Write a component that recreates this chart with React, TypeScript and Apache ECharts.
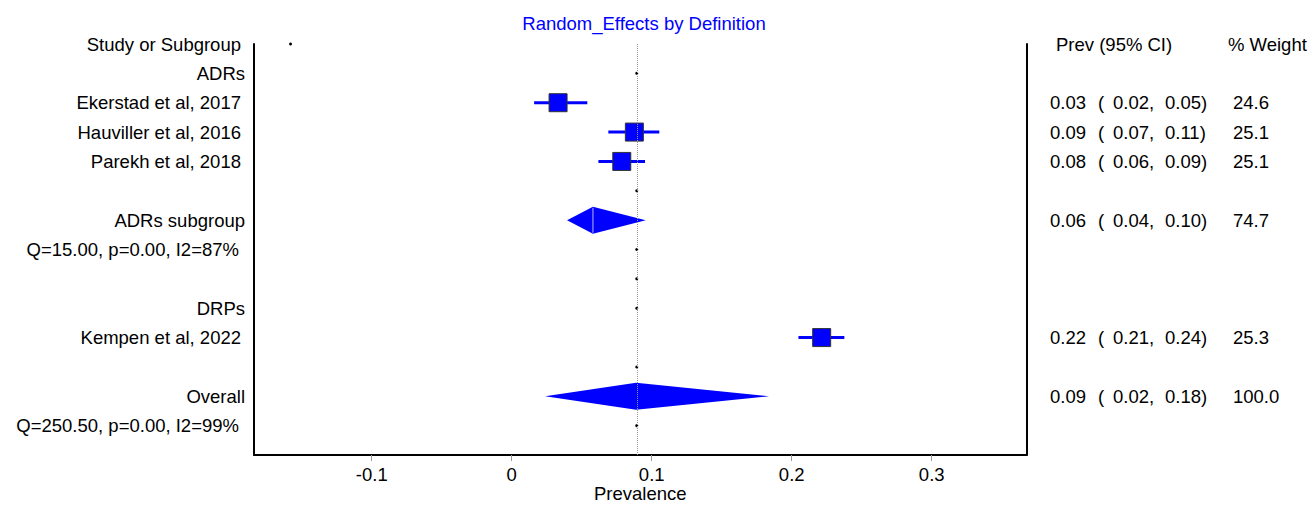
import React, { useEffect, useRef } from "react";
import * as echarts from "echarts";

// ---------- data ----------
const rowLabels = [
  "Study or Subgroup",
  "ADRs",
  "Ekerstad et al, 2017",
  "Hauviller et al, 2016",
  "Parekh et al, 2018",
  "",
  "ADRs subgroup",
  "Q=15.00, p=0.00, I2=87%",
  "",
  "DRPs",
  "Kempen et al, 2022",
  "",
  "Overall",
  "Q=250.50, p=0.00, I2=99%",
  "",
];
const labelKind = ["s", "g", "s", "s", "s", "s", "g", "q", "s", "g", "s", "s", "g", "q", "s"];

const studyRows = [2, 3, 4, 10];
const studyEst = [0.0331, 0.0876, 0.0786, 0.2214];
const studyLo = [0.016, 0.069, 0.0619, 0.2048];
const studyHi = [0.054, 0.1054, 0.0952, 0.2376];

const diamondRows = [6, 12];
const diamondLo = [0.0395, 0.0238];
const diamondEst = [0.058, 0.0888];
const diamondHi = [0.0957, 0.1838];

const overallEstimate = 0.0893;
const markerRows = [1, 5, 7, 8, 9, 11, 13];
const strayPoint = [-0.158, 0];

const textRows = [2, 3, 4, 6, 10, 12];
const estTxt = ["0.03", "0.09", "0.08", "0.06", "0.22", "0.09"];
const loTxt = ["0.02", "0.07", "0.06", "0.04", "0.21", "0.02"];
const hiTxt = ["0.05", "0.11", "0.09", "0.10", "0.24", "0.18"];
const weightTxt = ["24.6", "25.1", "25.1", "74.7", "25.3", "100.0"];

const xTicks = [-0.1, 0, 0.1, 0.2, 0.3];
const xMin = -0.1841;
const xMax = 0.3677;

const FONT = "'Liberation Sans', Arial, Helvetica, sans-serif";
const FS = 18.5;
const BLUE = "#0000FF";
const TXT = { fontSize: FS, fontFamily: FONT, color: "#000", textBorderWidth: 0, opacity: 1 };

export default function App() {
  const ref = useRef<HTMLDivElement>(null);

  useEffect(() => {
    document.body.style.margin = "0";
    if (!ref.current) return;
    const chart = echarts.init(ref.current, null, { renderer: "svg" });

    const option: any = {
      animation: false,
      backgroundColor: "#fff",
      title: {
        text: "Random_Effects by Definition",
        left: 644,
        top: 14,
        textAlign: "center",
        padding: 0,
        textStyle: { color: BLUE, fontSize: FS, fontWeight: "normal", fontFamily: FONT },
      },
      grid: { left: 254, right: 282.5, top: 44, bottom: 52, containLabel: false, outerBoundsMode: "none" },
      xAxis: {
        type: "value",
        min: xMin,
        max: xMax,
        splitLine: { show: false },
        axisLine: { show: true, onZero: false, lineStyle: { color: "#000", width: 2 } },
        axisTick: { show: true, customValues: xTicks, length: 6, lineStyle: { color: "#999", width: 1 } },
        axisLabel: {
          customValues: xTicks,
          margin: 10,
          color: "#000",
          fontSize: FS,
          fontFamily: FONT,
          formatter: (v: number) => (Math.abs(v) < 1e-9 ? "0" : String(Math.round(v * 10) / 10)),
        },
        name: "Prevalence",
        nameLocation: "middle",
        nameGap: 29,
        nameMoveOverlap: false,
        nameTextStyle: { color: "#000", fontSize: FS, fontFamily: FONT },
      },
      yAxis: [
        {
          type: "category",
          data: rowLabels,
          inverse: true,
          boundaryGap: false,
          position: "left",
          axisLine: { show: true, onZero: false, lineStyle: { color: "#000", width: 2 } },
          axisTick: { show: false },
          splitLine: { show: false },
          axisLabel: {
            interval: 0,
            margin: 9,
            color: "#000",
            fontSize: FS,
            fontFamily: FONT,
            formatter: (v: string, i: number) => (v ? `{${labelKind[i]}|${v}}` : ""),
            rich: {
              g: { ...TXT },
              s: { ...TXT, padding: [0, 4, 0, 0] },
              q: { ...TXT, padding: [0, 6, 0, 0] },
            },
          },
        },
        {
          type: "category",
          data: rowLabels,
          inverse: true,
          boundaryGap: false,
          position: "right",
          axisLine: { show: true, onZero: false, lineStyle: { color: "#000", width: 2 } },
          axisTick: { show: false },
          axisLabel: { show: false },
          splitLine: { show: false },
        },
      ],
      series: [
        {
          type: "scatter",
          name: "markers",
          symbol: "circle",
          symbolSize: 3,
          itemStyle: { color: "#000", opacity: 1 },
          data: [strayPoint, ...markerRows.map((r) => [overallEstimate, r])],
          markLine: {
            silent: true,
            symbol: ["none", "none"],
            label: { show: false },
            lineStyle: { type: "dotted", color: "#999", width: 1 },
            data: [{ xAxis: overallEstimate }],
          },
          z: 2,
        },
        {
          type: "custom",
          name: "ci",
          data: studyRows.map((r, i) => [studyLo[i], studyHi[i], r]),
          encode: { x: [0, 1], y: 2 },
          renderItem: (params: any, api: any) => {
            const a = api.coord([api.value(0), api.value(2)]);
            const b = api.coord([api.value(1), api.value(2)]);
            return {
              type: "line",
              shape: { x1: a[0], y1: a[1], x2: b[0], y2: b[1] },
              style: { stroke: BLUE, lineWidth: 3 },
            };
          },
          z: 3,
        },
        {
          type: "scatter",
          name: "studies",
          symbol: "rect",
          symbolSize: [18, 18],
          itemStyle: { color: BLUE, borderColor: "#333", borderWidth: 1, opacity: 1 },
          data: studyRows.map((r, i) => [studyEst[i], r]),
          z: 4,
        },
        {
          type: "custom",
          name: "diamonds",
          data: diamondRows.map((r, i) => [diamondLo[i], diamondEst[i], diamondHi[i], r]),
          encode: { x: [0, 1, 2], y: 3 },
          renderItem: (params: any, api: any) => {
            const row = api.value(3);
            const l = api.coord([api.value(0), row]);
            const c = api.coord([api.value(1), row]);
            const r = api.coord([api.value(2), row]);
            const h = 13.5;
            const children: any[] = [
              {
                type: "polygon",
                shape: { points: [[l[0], l[1]], [c[0], c[1] - h], [r[0], r[1]], [c[0], c[1] + h]] },
                style: { fill: BLUE },
              },
            ];
            if (params.dataIndex === 0) {
              children.push({
                type: "line",
                shape: { x1: c[0], y1: c[1] - h + 1, x2: c[0], y2: c[1] + h - 1 },
                style: { stroke: "#7a7aff", lineWidth: 1.5 },
              });
            }
            return { type: "group", children };
          },
          z: 3,
        },
        {
          type: "scatter",
          name: "header",
          symbolSize: 0,
          clip: false,
          itemStyle: { opacity: 1 },
          data: [[xMax, 0]],
          label: {
            show: true,
            position: "right",
            distance: 29.5,
            ...TXT,
            formatter: () => "{h1|Prev (95% CI)}{h2|% Weight}",
            rich: {
              h1: { ...TXT, width: 172 },
              h2: { ...TXT },
            },
          },
          z: 5,
        },
        {
          type: "scatter",
          name: "values",
          symbolSize: 0,
          clip: false,
          itemStyle: { opacity: 1 },
          data: textRows.map((r) => [xMax, r]),
          label: {
            show: true,
            position: "right",
            distance: 23.5,
            ...TXT,
            formatter: (p: any) => {
              const i = p.dataIndex;
              return `{a|${estTxt[i]}}{b|(}{c|${loTxt[i]},}{d|${hiTxt[i]})}{e|${weightTxt[i]}}`;
            },
            rich: {
              a: { ...TXT, width: 48 },
              b: { ...TXT, width: 15 },
              c: { ...TXT, width: 52 },
              d: { ...TXT, width: 68 },
              e: { ...TXT },
            },
          },
          z: 5,
        },
      ],
    };

    chart.setOption(option);
    return () => chart.dispose();
  }, []);

  return <div ref={ref} style={{ width: 1309, height: 507 }} />;
}
